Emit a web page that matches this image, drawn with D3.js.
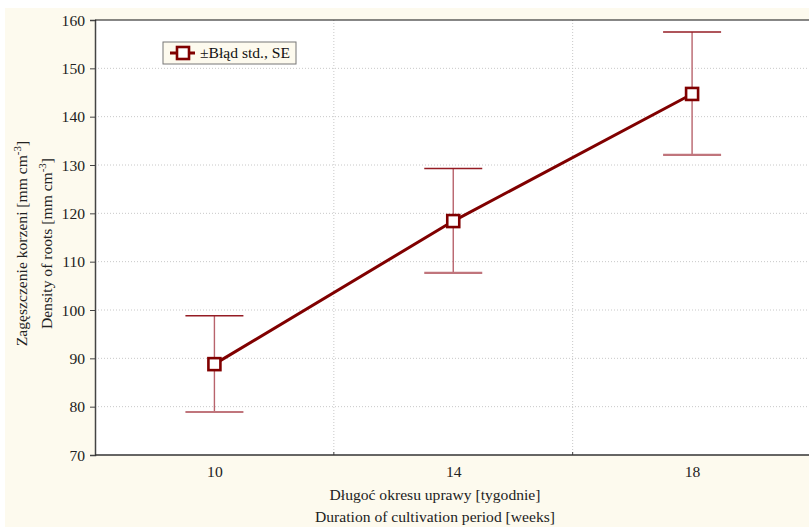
<!DOCTYPE html>
<html>
<head>
<meta charset="utf-8">
<script src="https://cdn.jsdelivr.net/npm/d3@7"></script>
<style>
  body { margin: 0; background: #fff; }
  svg { display: block; font-family: "Liberation Serif", "Times New Roman", serif; }
</style>
</head>
<body>
<svg id="chart" width="809" height="527"></svg>
<script>
// data
var weeks = [10, 14, 18];
var means = [88.8, 118.4, 144.7];
var upper = [98.8, 129.3, 157.5];
var lower = [78.9, 107.7, 132.1];
var xTicks = [10, 14, 18];
var xGrid = [12, 16, 20];
var yTicks = [70, 80, 90, 100, 110, 120, 130, 140, 150, 160];

var rows = weeks.map(function(w, i) {
  return { w: w, m: means[i], hi: upper[i], lo: lower[i] };
});

var fs = 15.6;
var svg = d3.select("#chart");
var margin = { top: 20, left: 95, bottom: 72 };
var plotRight = 811.5;
var height = 527 - margin.top - margin.bottom;

// outer cream panel
svg.append("rect")
  .attr("x", 5).attr("y", 8)
  .attr("width", 804).attr("height", 519)
  .attr("fill", "#fdfaee");

var x = d3.scaleLinear().domain([8, 20]).range([margin.left, plotRight]);
var y = d3.scaleLinear().domain([70, 160]).range([margin.top + height, margin.top]);

// plot area
svg.append("rect")
  .attr("x", margin.left).attr("y", margin.top)
  .attr("width", plotRight - margin.left).attr("height", height)
  .attr("fill", "#ffffff");

// grid
svg.append("g").selectAll("line")
  .data(yTicks.slice(1, -1))
  .enter().append("line")
  .attr("x1", margin.left).attr("x2", plotRight)
  .attr("y1", function(d) { return y(d); }).attr("y2", function(d) { return y(d); })
  .attr("stroke", "#c8c8c8").attr("stroke-dasharray", "1,2");

svg.append("g").selectAll("line")
  .data(xGrid)
  .enter().append("line")
  .attr("x1", function(d) { return x(d); }).attr("x2", function(d) { return x(d); })
  .attr("y1", margin.top).attr("y2", margin.top + height)
  .attr("stroke", "#c8c8c8").attr("stroke-dasharray", "1,2");

// axes
var yAxis = svg.append("g")
  .attr("transform", "translate(" + margin.left + ",0)")
  .call(d3.axisLeft(y).tickValues(yTicks).tickSize(5).tickPadding(5));
yAxis.select(".domain").attr("stroke", "#444").attr("stroke-width", 1.5);
yAxis.selectAll(".tick line").attr("stroke", "#444");
yAxis.selectAll("text").attr("font-size", fs).attr("fill", "#222")
  .attr("font-family", "Liberation Serif");

var xAxis = svg.append("g")
  .attr("transform", "translate(0," + (margin.top + height) + ")")
  .call(d3.axisBottom(x).tickValues(xTicks).tickSize(0).tickPadding(11));
xAxis.select(".domain").remove();
xAxis.selectAll("text").attr("font-size", fs).attr("fill", "#222")
  .attr("font-family", "Liberation Serif");

svg.append("g").selectAll("line")
  .data([12, 16])
  .enter().append("line")
  .attr("x1", function(d) { return x(d); }).attr("x2", function(d) { return x(d); })
  .attr("y1", margin.top + height).attr("y2", margin.top + height - 3)
  .attr("stroke", "#444");

svg.append("line")
  .attr("x1", margin.left).attr("x2", plotRight)
  .attr("y1", margin.top + height).attr("y2", margin.top + height)
  .attr("stroke", "#333").attr("stroke-width", 1.5);
svg.append("line")
  .attr("x1", margin.left).attr("x2", plotRight)
  .attr("y1", margin.top).attr("y2", margin.top)
  .attr("stroke", "#111").attr("stroke-width", 1.2);

// error bars
var capW = 29;
var eb = svg.append("g");
eb.selectAll(".stem").data(rows).enter().append("line")
  .attr("x1", function(d) { return x(d.w); }).attr("x2", function(d) { return x(d.w); })
  .attr("y1", function(d) { return y(d.hi); }).attr("y2", function(d) { return y(d.lo); })
  .attr("stroke", "#b8636c").attr("stroke-width", 1.4);
eb.selectAll(".capHi").data(rows).enter().append("line")
  .attr("x1", function(d) { return x(d.w) - capW; }).attr("x2", function(d) { return x(d.w) + capW; })
  .attr("y1", function(d) { return y(d.hi); }).attr("y2", function(d) { return y(d.hi); })
  .attr("stroke", "#951c24").attr("stroke-width", 1.5);
eb.selectAll(".capLo").data(rows).enter().append("line")
  .attr("x1", function(d) { return x(d.w) - capW; }).attr("x2", function(d) { return x(d.w) + capW; })
  .attr("y1", function(d) { return y(d.lo); }).attr("y2", function(d) { return y(d.lo); })
  .attr("stroke", "#c0757c").attr("stroke-width", 2.2);

// mean line
svg.append("path")
  .datum(rows)
  .attr("fill", "none")
  .attr("stroke", "#800000")
  .attr("stroke-width", 3)
  .attr("d", d3.line().x(function(d) { return x(d.w); }).y(function(d) { return y(d.m); }));

var sq = 12;
svg.append("g").selectAll("rect")
  .data(rows)
  .enter().append("rect")
  .attr("x", function(d) { return x(d.w) - sq / 2; })
  .attr("y", function(d) { return y(d.m) - sq / 2; })
  .attr("width", sq).attr("height", sq)
  .attr("fill", "#fff").attr("stroke", "#800000").attr("stroke-width", 2.6);

// legend
var lg = svg.append("g").attr("transform", "translate(163,42)");
lg.append("rect").attr("width", 133).attr("height", 22)
  .attr("fill", "#fdfaee").attr("stroke", "#777").attr("stroke-width", 1);
lg.append("line").attr("x1", 7).attr("x2", 32).attr("y1", 11).attr("y2", 11)
  .attr("stroke", "#800000").attr("stroke-width", 3);
lg.append("rect").attr("x", 14).attr("y", 5).attr("width", 12).attr("height", 12)
  .attr("fill", "#fff").attr("stroke", "#800000").attr("stroke-width", 2.6);
lg.append("text").attr("x", 37).attr("y", 16)
  .attr("font-size", fs).attr("fill", "#111")
  .text("±Błąd std., SE");

// axis titles
var yt = svg.append("g")
  .attr("transform", "translate(27," + (margin.top + height / 2 + 6) + ") rotate(-90)");
var t1 = yt.append("text").attr("text-anchor", "middle").attr("font-size", fs).attr("fill", "#222");
t1.append("tspan").text("Zagęszczenie korzeni [mm cm");
t1.append("tspan").attr("baseline-shift", "super").attr("font-size", 11).text("-3");
t1.append("tspan").text("]");
var t2 = yt.append("text").attr("y", 25).attr("text-anchor", "middle").attr("font-size", fs).attr("fill", "#222");
t2.append("tspan").text("Density of roots [mm cm");
t2.append("tspan").attr("baseline-shift", "super").attr("font-size", 11).text("-3");
t2.append("tspan").text("]");

svg.append("text").attr("x", 435).attr("y", 500)
  .attr("text-anchor", "middle").attr("font-size", fs).attr("fill", "#222")
  .text("Długoć okresu uprawy [tygodnie]");
svg.append("text").attr("x", 435).attr("y", 522)
  .attr("text-anchor", "middle").attr("font-size", fs).attr("fill", "#222")
  .text("Duration of cultivation period [weeks]");
</script>
</body>
</html>
